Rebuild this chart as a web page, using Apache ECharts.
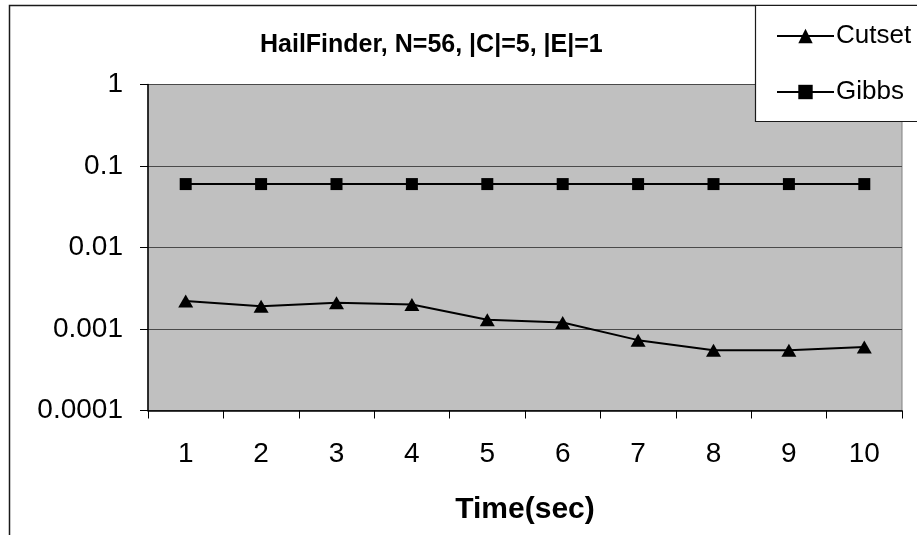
<!DOCTYPE html>
<html>
<head>
<meta charset="utf-8">
<script src="https://cdn.jsdelivr.net/npm/echarts@6/dist/echarts.min.js"></script>
<style>html,body{margin:0;padding:0;background:#fff}#c{width:917px;height:535px}</style>
</head>
<body>
<div id="c"></div>
<script>
var categories = ['1','2','3','4','5','6','7','8','9','10'];
var cutset = [0.0022, 0.0019, 0.0021, 0.0020, 0.0013, 0.0012, 0.00073, 0.00055, 0.00055, 0.0006];
var gibbs = [0.06, 0.06, 0.06, 0.06, 0.06, 0.06, 0.06, 0.06, 0.06, 0.06];
var yTickLabels = ['0.0001', '0.001', '0.01', '0.1', '1'];

var FONT = '"Liberation Sans", Arial, sans-serif';
var chart = echarts.init(document.getElementById('c'), null, {renderer: 'canvas'});
chart.setOption({
  animation: false,
  backgroundColor: '#ffffff',
  textStyle: {fontFamily: FONT},
  title: {
    text: 'HailFinder, N=56, |C|=5, |E|=1',
    left: 255, top: 28,
    textStyle: {fontFamily: FONT, fontSize: 25, fontWeight: 'bold', color: '#000'}
  },
  graphic: [
    {type: 'rect', shape: {x: 9.5, y: 5.5, width: 1000, height: 1000}, style: {fill: 'none', stroke: '#1a1a1a', lineWidth: 1.5}, z: 0},
    {type: 'rect', shape: {x: 755.5, y: 5.5, width: 300, height: 116}, style: {fill: '#ffffff', stroke: '#1a1a1a', lineWidth: 1.2}, z: 1}
  ],
  legend: {
    orient: 'vertical',
    left: 771, top: 17,
    itemWidth: 57, itemHeight: 18, itemGap: 28,
    textStyle: {fontFamily: FONT, fontSize: 26, color: '#000', lineHeight: 28, padding: [0,0,0,-3]},
    z: 5,
    data: ['Cutset', 'Gibbs']
  },
  grid: {
    left: 148, right: 15, top: 84.5, bottom: 124.5,
    show: true, backgroundColor: '#c0c0c0', borderColor: '#808080', borderWidth: 1
  },
  xAxis: {
    type: 'category',
    data: categories,
    boundaryGap: true,
    name: 'Time(sec)',
    nameLocation: 'middle',
    nameGap: 84,
    nameTextStyle: {fontFamily: FONT, fontSize: 30, fontWeight: 'bold', color: '#000'},
    axisLine: {lineStyle: {color: '#000', width: 1.5}},
    axisTick: {show: true, length: 8, lineStyle: {color: '#000'}},
    axisLabel: {fontFamily: FONT, fontSize: 28, color: '#000', margin: 30},
    splitLine: {show: false}
  },
  yAxis: {
    type: 'log',
    logBase: 10,
    min: 0.0001, max: 1,
    axisLine: {show: true, lineStyle: {color: '#000', width: 1.5}},
    axisTick: {show: true, length: 8, lineStyle: {color: '#000'}},
    axisLabel: {
      fontFamily: FONT, fontSize: 28, color: '#000', margin: 25,
      formatter: function (v) { return yTickLabels[Math.round(Math.log10(v)) + 4]; }
    },
    minorTick: {show: false},
    splitLine: {show: true, lineStyle: {color: '#4a4a4a', width: 1}}
  },
  series: [
    {
      name: 'Cutset', type: 'line', data: cutset,
      symbol: 'triangle', symbolSize: [15, 13],
      itemStyle: {color: '#000'},
      lineStyle: {color: '#000', width: 2},
      z: 3
    },
    {
      name: 'Gibbs', type: 'line', data: gibbs,
      symbol: 'rect', symbolSize: 12,
      itemStyle: {color: '#000'},
      lineStyle: {color: '#000', width: 2},
      z: 3
    }
  ]
});
</script>
</body>
</html>
